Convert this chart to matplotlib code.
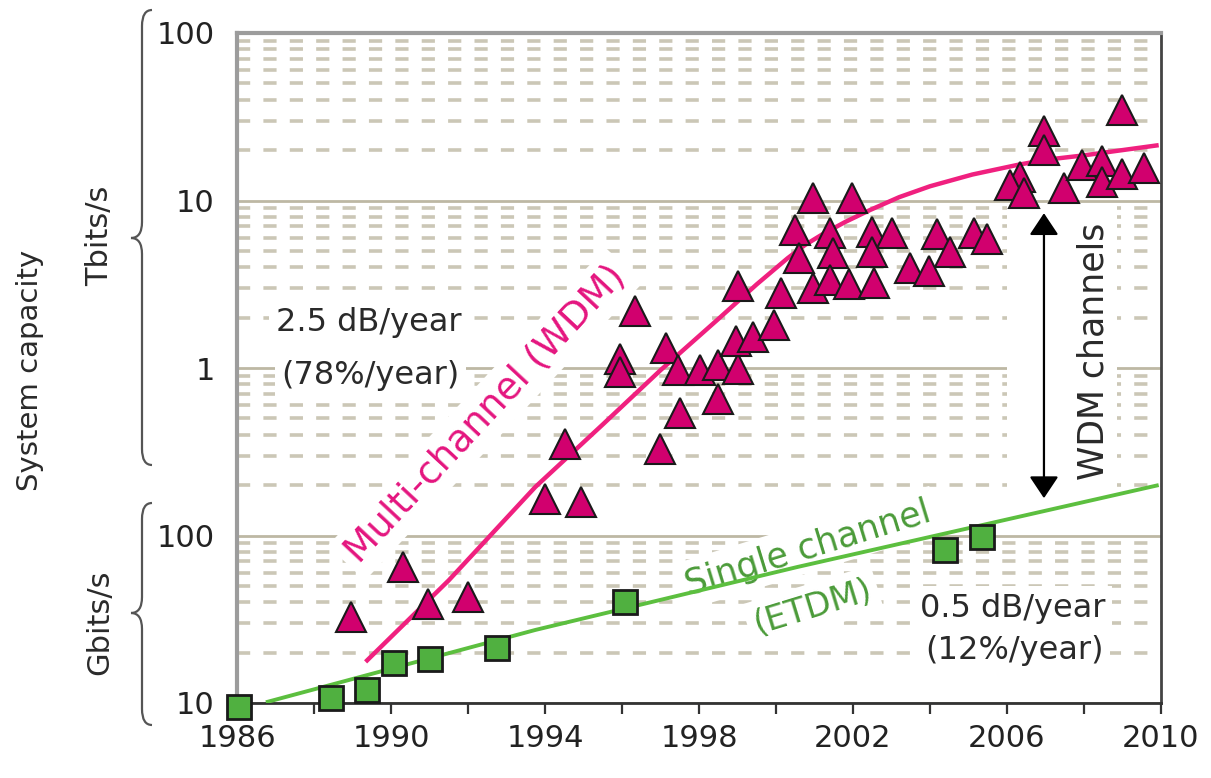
import matplotlib
matplotlib.use("Agg")
import matplotlib.pyplot as plt
from matplotlib.path import Path
from matplotlib.patches import PathPatch, Rectangle
from matplotlib.ticker import FixedLocator, LogLocator, NullFormatter

plt.rcParams['lines.scale_dashes'] = False
plt.rcParams['font.family'] = ['DejaVu Sans']

# ===== DATA (system capacity in Tbit/s) ===== #
# multi-channel (WDM) experiments
wdm_years = [1988.95, 1990.30, 1990.95, 1992.00, 1994.00, 1994.94, 1994.52,
             1996.98, 1997.50, 1998.49, 1995.95, 1995.95, 1996.34, 1997.14,
             1997.45, 1998.02, 1998.49, 1999.00, 1998.95, 1999.40, 1999.96,
             1999.00, 2000.12, 2000.95, 2001.98, 2000.50, 2001.41, 2002.50,
             2003.00, 2000.60, 2001.47, 2002.50, 2004.19, 2004.52, 2005.15,
             2005.48, 2003.49, 2003.98, 2000.95, 2001.41, 2001.90, 2002.55,
             2008.98, 2006.96, 2006.96, 2006.34, 2006.08, 2006.44, 2007.48,
             2007.95, 2008.46, 2008.46, 2008.98, 2009.55]
wdm_cap = [0.0326, 0.0648, 0.039, 0.043, 0.165, 0.158, 0.35,
           0.33, 0.54, 0.65, 1.13, 0.95, 2.19, 1.32,
           0.97, 0.97, 1.04, 0.99, 1.45, 1.53, 1.81,
           3.09, 2.8, 10.4, 10.4, 6.67, 6.4, 6.5,
           6.4, 4.54, 4.86, 4.9, 6.3, 4.9, 6.4,
           5.9, 3.95, 3.8, 3.0, 3.35, 3.17, 3.2,
           34.7, 26.0, 20.0, 13.8, 12.4, 11.1, 11.9,
           16.3, 17.2, 12.9, 14.4, 15.6]

# single channel (ETDM) experiments
etdm_years = [1986.05, 1988.44, 1989.37, 1990.07, 1991.00, 1992.76, 1996.08, 2004.40, 2005.35]
etdm_cap = [0.0095, 0.0107, 0.012, 0.0173, 0.0183, 0.0213, 0.040, 0.082, 0.098]

# trend curves
wdm_trend_years = [1989.34, 1991.5, 1993.75, 1995.5, 1997.0, 1998.5, 1999.5,
                   2000.3, 2000.75, 2001.2, 2001.8, 2002.45, 2003.2, 2004.0,
                   2005.1, 2006.26, 2007.0, 2008.0, 2009.94]
wdm_trend_cap = [0.0176, 0.054, 0.195, 0.46, 0.97, 1.96, 3.16,
                 4.52, 5.42, 6.27, 7.45, 8.79, 10.47, 12.16,
                 14.29, 16.29, 17.5, 18.6, 21.4]
etdm_trend_years = [1986.75, 1993.75, 2000.56, 2009.94]
etdm_trend_cap = [0.0101, 0.0273, 0.0649, 0.200]

x_ticks = [1986, 1990, 1994, 1998, 2002, 2006, 2010]
x_minor = [1988, 1992, 1996, 2000, 2004, 2008]
y_ticks = [0.01, 0.1, 1, 10, 100]
y_labels = ['10', '100', '1', '10', '100']

W, H = 1211, 778
fig = plt.figure(figsize=(W / 100, H / 100), dpi=100)
ax = fig.add_axes([237 / W, 1 - 703 / H, (1161 - 237) / W, (703 - 33) / H])
ax.set_yscale('log')
ax.set_xlim(1986, 2010)
ax.set_ylim(0.01, 100)
ax.set_axisbelow(True)

# ===== GRID / AXES ===== #
ax.yaxis.set_major_locator(FixedLocator(y_ticks))
ax.set_yticklabels(y_labels)
ax.yaxis.set_minor_locator(LogLocator(base=10, subs=range(2, 10)))
ax.yaxis.set_minor_formatter(NullFormatter())
ax.yaxis.grid(True, which='major', color='#bdb8a4', lw=2.0, ls='-')
ax.yaxis.grid(True, which='minor', color='#cbc7b6', lw=2.6, ls=(0, (9.5, 9.5)))
ax.tick_params(axis='y', which='both', length=0, pad=16, labelsize=22, labelcolor='#222222')

ax.set_xticks(x_ticks)
ax.set_xticks(x_minor, minor=True)
ax.tick_params(axis='x', which='both', direction='out', length=8, width=1.6,
               color='#333333', pad=7, labelsize=22, labelcolor='#222222')

for side, col, lw in [('left', '#9c9c9c', 3), ('top', '#9c9c9c', 3),
                      ('right', '#444444', 2), ('bottom', '#333333', 2)]:
    ax.spines[side].set_color(col)
    ax.spines[side].set_linewidth(lw)

# white area behind the arrow
ax.add_patch(Rectangle((2006.0, 0.175), 2.85, 9.4 - 0.175, fc='white', ec='none', zorder=1))

# ===== CURVES AND POINTS ===== #
ax.plot(wdm_trend_years, wdm_trend_cap, color='#f0207f', lw=3.2, zorder=3,
        solid_capstyle='butt', solid_joinstyle='round')
ax.plot(etdm_trend_years, etdm_trend_cap, color='#5cbf3f', lw=2.8, zorder=3,
        solid_capstyle='butt', solid_joinstyle='round')
ax.plot(wdm_years, wdm_cap, ls='none', marker='^', ms=21, mfc='#d1006e',
        mec='#1a1a1a', mew=1.5, zorder=4, clip_on=False)
ax.plot(etdm_years, etdm_cap, ls='none', marker='s', ms=17.5, mfc='#50b040',
        mec='#1a1a1a', mew=2, zorder=4, clip_on=False)

# ===== ANNOTATIONS ===== #
box = dict(boxstyle='square,pad=0.2', fc='white', ec='none')
ax.text(1989.42, 1.88, '2.5 dB/year', ha='center', va='center', size=23,
        color='#2a2a2a', bbox=box, zorder=2)
ax.text(1989.47, 0.908, '(78%/year)', ha='center', va='center', size=23,
        color='#2a2a2a', bbox=box, zorder=2)
ax.text(1992.45, 0.53, 'Multi-channel (WDM)', ha='center', va='center',
        rotation=47, rotation_mode='anchor', size=27, color='#e4157f',
        bbox=box, zorder=2)
ax.text(2000.82, 0.084, 'Single channel', ha='center', va='center',
        rotation=17, rotation_mode='anchor', size=25, color='#4b9b39',
        bbox=box, zorder=2)
ax.text(2000.95, 0.0374, '(ETDM)', ha='center', va='center',
        rotation=17, rotation_mode='anchor', size=24, color='#4b9b39',
        bbox=box, zorder=2)
ax.text(2006.16, 0.0369, '0.5 dB/year', ha='center', va='center', size=23,
        color='#2a2a2a', bbox=box, zorder=2)
ax.text(2006.2, 0.0207, '(12%/year)', ha='center', va='center', size=23,
        color='#2a2a2a', bbox=box, zorder=2)
ax.text(2008.25, 1.26, 'WDM channels', ha='center', va='center', rotation=90,
        size=25, color='#2a2a2a', zorder=2)
ax.annotate('', xy=(2006.96, 8.4), xytext=(2006.96, 0.167),
            arrowprops=dict(arrowstyle='<|-|>,head_length=0.45,head_width=0.3',
                            color='black', lw=1.6, mutation_scale=30,
                            shrinkA=0, shrinkB=0), zorder=3)

# ===== LEFT LABELS AND BRACES ===== #
fig.text(30 / W, 1 - 370 / H, 'System capacity', rotation=90, ha='center',
         va='center', size=21, color='#2a2a2a')
fig.text(100 / W, 1 - 236 / H, 'Tbits/s', rotation=90, ha='center',
         va='center', size=22, color='#2a2a2a')
fig.text(100 / W, 1 - 622 / H, 'Gbits/s', rotation=90, ha='center',
         va='center', size=22, color='#2a2a2a')


def brace(x_end, x_line, x_tip, top, tip, bottom, r=16):
    pts = [(x_end, top), (x_line, top), (x_line, top + r),
           (x_line, tip - r), (x_line, tip), (x_tip, tip),
           (x_line, tip), (x_line, tip + r),
           (x_line, bottom - r), (x_line, bottom), (x_end, bottom)]
    codes = [Path.MOVETO, Path.CURVE3, Path.CURVE3,
             Path.LINETO, Path.CURVE3, Path.CURVE3,
             Path.CURVE3, Path.CURVE3,
             Path.LINETO, Path.CURVE3, Path.CURVE3]
    verts = [(x / W, 1 - y / H) for x, y in pts]
    fig.patches.append(PathPatch(Path(verts, codes), fc='none', ec='#555555',
                                 lw=1.6, transform=fig.transFigure))


brace(152, 142, 131, 10, 238, 465)
brace(152, 142, 131, 503, 613, 725)

fig.savefig('out.png', dpi=100)
